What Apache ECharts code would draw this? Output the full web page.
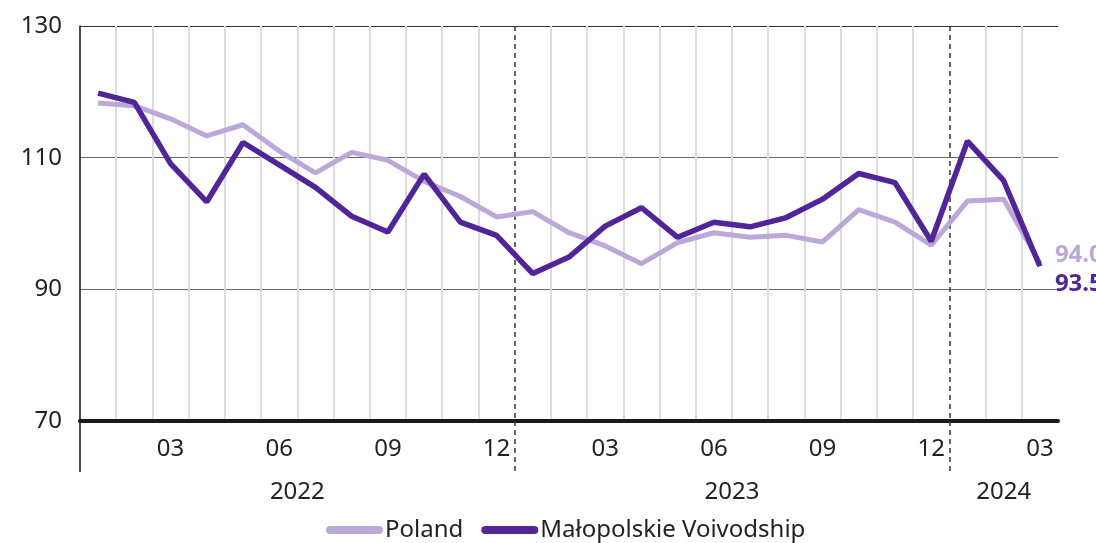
<!DOCTYPE html>
<html>
<head>
<meta charset="utf-8">
<script src="https://cdn.jsdelivr.net/npm/echarts@6/dist/echarts.min.js"></script>
<style>
html,body{margin:0;padding:0;background:#fff;}
#chart{width:1096px;height:543px;}
</style>
</head>
<body>
<div id="chart"></div>
<script>
const months = ['2022-01','2022-02','2022-03','2022-04','2022-05','2022-06','2022-07','2022-08','2022-09','2022-10','2022-11','2022-12',
  '2023-01','2023-02','2023-03','2023-04','2023-05','2023-06','2023-07','2023-08','2023-09','2023-10','2023-11','2023-12',
  '2024-01','2024-02','2024-03'];
const poland = [118.3,117.9,115.9,113.3,115.0,111.0,107.7,110.8,109.6,106.4,104.1,101.0,
  101.8,98.6,96.6,93.9,97.1,98.6,97.9,98.2,97.2,102.1,100.2,96.7,
  103.4,103.7,94.0];
const malopolskie = [119.8,118.4,109.1,103.3,112.3,108.9,105.5,101.1,98.7,107.5,100.2,98.2,
  92.4,94.9,99.6,102.4,97.9,100.2,99.5,100.9,103.7,107.6,106.2,97.3,
  112.5,106.5,93.5];
const seriesNames = ['Poland','Małopolskie Voivodship'];
const yTicks = [70, 90, 110, 130];

const FONT = 'Noto Sans';
const FS = 24;
const N = months.length;
const years = [...new Set(months.map(m => m.slice(0,4)))];
const yearPos = years.map(y => {
  const idx = months.map((m,i)=>m.startsWith(y)?i:-1).filter(i=>i>=0);
  return (idx[0] + idx[idx.length-1] + 1) / 2;
});
const yearStart = months.map((m,i)=> (i>0 && m.slice(0,4)!==months[i-1].slice(0,4)) ? i : -1).filter(i=>i>=0);
const monthBounds = months.map((m,i)=>i).filter(i => i>0 && yearStart.indexOf(i)<0);

const chart = echarts.init(document.getElementById('chart'));
const baseVal = {type:'value', gridIndex:0, position:'bottom', min:0, max:N,
  axisLine:{show:false}, axisLabel:{show:false}, axisTick:{show:false}, splitLine:{show:false}};
chart.setOption({
  animation:false,
  textStyle:{fontFamily:FONT},
  grid:{left:80, right:38, top:26, bottom:122, containLabel:false},
  legend:{
    data: seriesNames, left: 321, top: 513,
    itemWidth: 57, itemHeight: 8, itemGap: 18,
    icon: 'path://M4,0 L53,0 A4,4 0 0 1 53,8 L4,8 A4,4 0 0 1 4,0 Z',
    textStyle:{fontSize:FS, color:'#222', fontFamily:FONT, padding:[0,0,0,-3]}
  },
  xAxis:[
    {
      type:'category', data: months, boundaryGap: true, gridIndex:0, position:'bottom',
      axisLine:{show:true, onZero:false, lineStyle:{color:'#1a1a1a', width:4}},
      axisTick:{show:false},
      axisLabel:{interval:(i)=> (i+1)%3===0, formatter:(v)=>v.slice(5), fontSize:FS, color:'#222', margin:16, fontFamily:FONT},
      splitLine:{show:false}
    },
    Object.assign({}, baseVal, {
      axisTick:{show:false, customValues: monthBounds},
      splitLine:{show:true, lineStyle:{color:'#dcdcdc', width:2}}
    }),
    Object.assign({}, baseVal, {
      axisTick:{show:true, customValues: yearStart, length:51, lineStyle:{type:[5,4], color:'#333', width:1.5}},
      splitLine:{show:true, lineStyle:{type:[5,4], color:'#333', width:1.5}}
    }),
    Object.assign({}, baseVal, {
      axisTick:{show:true, customValues:[0], length:51, lineStyle:{color:'#111', width:1.5}},
      axisLabel:{show:true, customValues: yearPos, formatter:(v)=> years[yearPos.indexOf(v)] || '', fontSize:FS, color:'#222', margin:59, fontFamily:FONT}
    })
  ],
  yAxis:{
    type:'value', min:yTicks[0], max:yTicks[yTicks.length-1], interval:20,
    axisLine:{show:true, lineStyle:{color:'#111', width:1.5}},
    axisTick:{show:false},
    axisLabel:{fontSize:FS, color:'#222', margin:18, fontFamily:FONT},
    splitLine:{show:true, lineStyle:{color:['#000','#666','#666','#333'], width:1}}
  },
  series:[
    {
      name: seriesNames[0], type:'line', data: poland, xAxisIndex:0,
      symbol:'none', color:'#BBA8D8', lineStyle:{width:5, color:'#BBA8D8'},
      endLabel:{show:true, formatter:(p)=> Number(p.value).toFixed(1), color:'#BBA8D8', fontWeight:'bold', fontSize:FS, distance:15, offset:[0,-8], fontFamily:FONT},
      z:3
    },
    {
      name: seriesNames[1], type:'line', data: malopolskie, xAxisIndex:0,
      symbol:'none', color:'#512498', lineStyle:{width:5.5, color:'#512498'},
      endLabel:{show:true, formatter:(p)=> Number(p.value).toFixed(1), color:'#512498', fontWeight:'bold', fontSize:FS, distance:15, offset:[0,18], fontFamily:FONT},
      z:4
    }
  ]
});
</script>
</body>
</html>
